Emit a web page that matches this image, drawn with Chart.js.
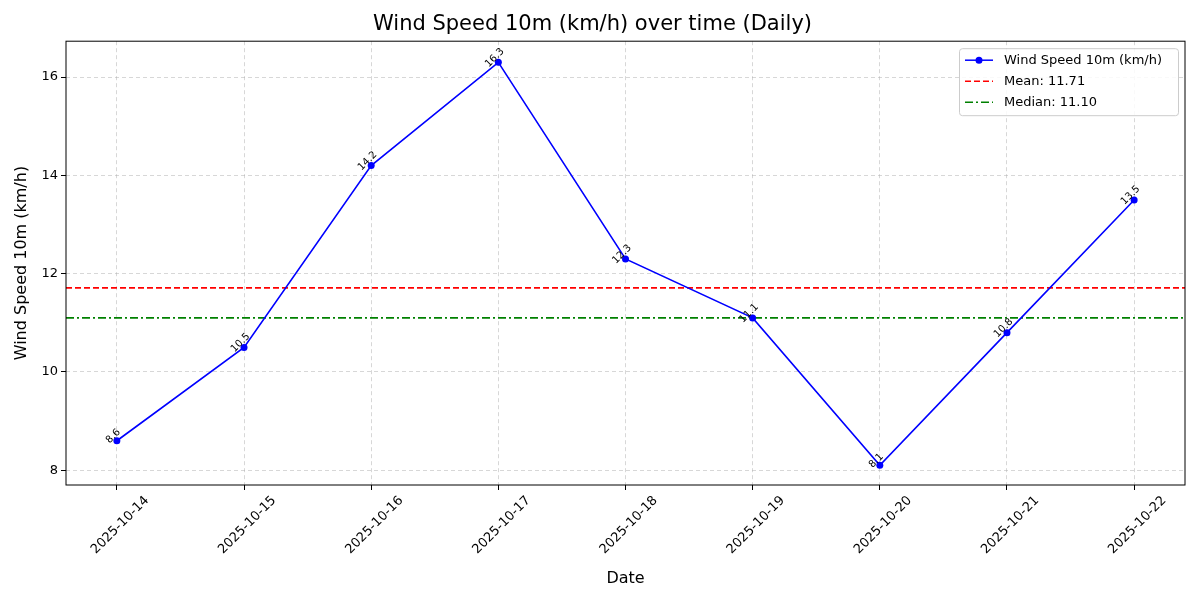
<!DOCTYPE html>
<html>
<head>
<meta charset="utf-8">
<script src="https://cdn.jsdelivr.net/npm/chart.js@4/dist/chart.umd.min.js"></script>
<style>
  html, body { margin: 0; padding: 0; background: #fff; }
  #wrap { width: 1200px; height: 600px; }
</style>
</head>
<body>
<div id="wrap"><canvas id="c" width="1200" height="600"></canvas></div>
<script>
// Données
const dates  = ['2025-10-14', '2025-10-15', '2025-10-16', '2025-10-17', '2025-10-18',
                '2025-10-19', '2025-10-20', '2025-10-21', '2025-10-22']
const vitesses = [8.6, 10.5, 14.2, 16.3, 12.3, 11.1, 8.1, 10.8, 13.5]
const moyenne = 11.71
const mediane = 11.10

const FONTE = "'DejaVu Sans', sans-serif"

const points = vitesses.map((v, i) => ({ x: i, y: v }))
const ligne = val => [{ x: -0.4, y: val }, { x: 8.4, y: val }]

// Étiquettes de valeurs inclinées au-dessus des points
const etiquettes = {
  id: 'etiquettes',
  afterDatasetsDraw(chart) {
    const { ctx, scales: { x, y } } = chart
    ctx.save()
    ctx.font = `10px ${FONTE}`
    ctx.fillStyle = '#000'
    ctx.textAlign = 'center'
    ctx.textBaseline = 'bottom'
    points.forEach(p => {
      ctx.save()
      ctx.translate(x.getPixelForValue(p.x), y.getPixelForValue(p.y) - 1)
      ctx.rotate(-Math.PI / 4)
      ctx.fillText(p.y.toFixed(1), 0, 0)
      ctx.restore()
    })
    ctx.restore()
  },
}

// Légende façon matplotlib, dans le coin haut droit du cadre
const legende = {
  id: 'legende',
  afterDraw(chart) {
    const { ctx, chartArea: a } = chart
    const items = [
      { txt: 'Wind Speed 10m (km/h)', col: 'blue', dash: [], pt: true },
      { txt: 'Mean: 11.71', col: 'red', dash: [6, 3] },
      { txt: 'Median: 11.10', col: 'green', dash: [8, 3, 2, 3] },
    ]
    const w = 219, h = 67, x0 = a.right - w - 7, y0 = a.top + 7
    ctx.save()
    ctx.fillStyle = 'rgba(255,255,255,0.85)'
    ctx.strokeStyle = '#ccc'
    ctx.lineWidth = 1
    ctx.beginPath()
    ctx.roundRect(x0 + 0.5, y0 + 0.5, w, h, 3)
    ctx.fill(); ctx.stroke()
    ctx.font = `13px ${FONTE}`
    ctx.textBaseline = 'middle'
    items.forEach((it, i) => {
      const yy = y0 + 12 + i * 21
      ctx.strokeStyle = it.col
      ctx.lineWidth = 1.5
      ctx.setLineDash(it.dash)
      ctx.beginPath(); ctx.moveTo(x0 + 6, yy); ctx.lineTo(x0 + 34, yy); ctx.stroke()
      ctx.setLineDash([])
      if (it.pt) {
        ctx.fillStyle = it.col
        ctx.beginPath(); ctx.arc(x0 + 20, yy, 3.5, 0, Math.PI * 2); ctx.fill()
      }
      ctx.fillStyle = '#000'
      ctx.fillText(it.txt, x0 + 45, yy)
    })
    ctx.restore()
  },
}

// Cadre complet autour de la zone de tracé
const cadre = {
  id: 'cadre',
  afterDraw(chart) {
    const { ctx, chartArea: a } = chart
    ctx.save()
    ctx.strokeStyle = '#000'
    ctx.lineWidth = 1
    ctx.strokeRect(a.left, a.top, a.right - a.left, a.bottom - a.top)
    ctx.restore()
  },
}

new Chart(document.getElementById('c').getContext('2d'), {
  type: 'line',
  data: {
    datasets: [
      {
        label: 'Wind Speed 10m (km/h)', data: points,
        borderColor: 'blue', backgroundColor: 'blue', borderWidth: 1.6,
        pointRadius: 3.5, pointBackgroundColor: 'blue', pointBorderWidth: 0, tension: 0,
      },
      {
        label: 'Mean: 11.71', data: ligne(moyenne),
        borderColor: 'red', borderDash: [6, 3], borderWidth: 1.6, pointRadius: 0,
      },
      {
        label: 'Median: 11.10', data: ligne(mediane),
        borderColor: 'green', borderDash: [8, 3, 2, 3], borderWidth: 1.6, pointRadius: 0,
      },
    ],
  },
  options: {
    responsive: false,
    animation: false,
    devicePixelRatio: 1,
    layout: { padding: { left: 0, right: 15, top: 0, bottom: 0 } },
    plugins: {
      legend: { display: false },
      tooltip: { enabled: false },
      title: {
        display: true, text: 'Wind Speed 10m (km/h) over time (Daily)',
        color: '#000', font: { family: FONTE, size: 21, weight: 'normal' },
        padding: { top: 12, bottom: 4 },
      },
    },
    scales: {
      x: {
        type: 'linear', min: -0.4, max: 8.4,
        afterBuildTicks: ax => { ax.ticks = dates.map((d, i) => ({ value: i })) },
        afterFit: ax => { ax.height = 115 },
        ticks: {
          color: '#000', font: { family: FONTE, size: 13 },
          maxRotation: 45, minRotation: 45, autoSkip: false,
          labelOffset: 30,
          callback: v => dates[v],
        },
        grid: { color: 'rgba(176,176,176,0.5)', tickColor: '#000', tickLength: 5 },
        border: { display: false, dash: [4, 3] },
        title: { display: true, text: 'Date', color: '#000', font: { family: FONTE, size: 16 }, padding: { top: 0, bottom: 12 } },
      },
      y: {
        min: 7.7, max: 16.73,
        afterBuildTicks: ax => { ax.ticks = [8, 10, 12, 14, 16].map(v => ({ value: v })) },
        afterFit: ax => { ax.width = 66 },
        ticks: { color: '#000', font: { family: FONTE, size: 13 } },
        grid: { color: 'rgba(176,176,176,0.5)', tickColor: '#000', tickLength: 5 },
        border: { display: false, dash: [4, 3] },
        title: { display: true, text: 'Wind Speed 10m (km/h)', color: '#000', font: { family: FONTE, size: 16 }, padding: { top: 12, bottom: 0 } },
      },
    },
  },
  plugins: [etiquettes, legende, cadre],
})
</script>
</body>
</html>
